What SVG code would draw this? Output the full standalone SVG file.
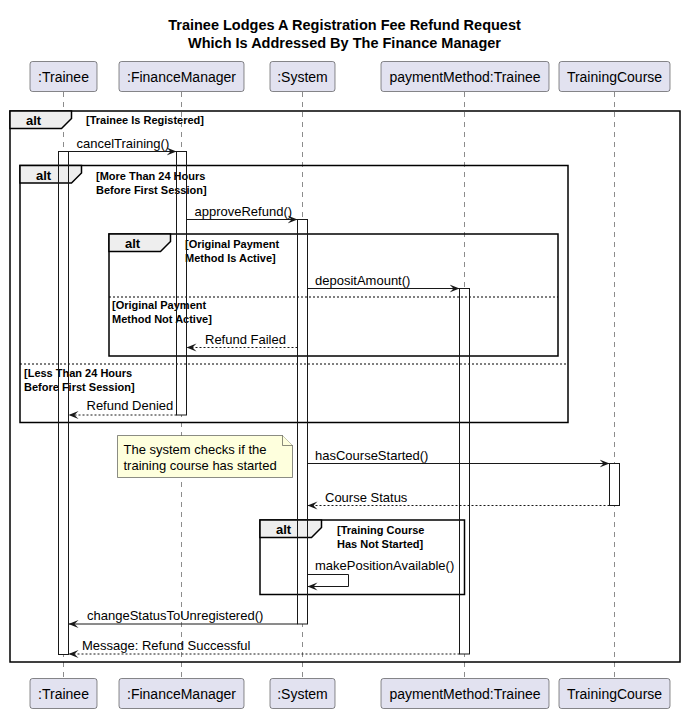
<svg xmlns="http://www.w3.org/2000/svg" width="685" height="715" viewBox="0 0 685 715">
<style>
text{font-family:"Liberation Sans",Arial,sans-serif;fill:#000000}
.title{font-size:14.5px;font-weight:bold;text-anchor:middle}
.pbox{fill:#E2E2F0;stroke:#181818;stroke-width:0.5}
.pname{font-size:14px;text-anchor:middle}
.life{stroke:#181818;stroke-width:0.5;stroke-dasharray:5,5;fill:none}
.actfill{fill:#FFFFFF;stroke:none}
.act{fill:none;stroke:#181818;stroke-width:1}
.frame{fill:none;stroke:#000000;stroke-width:1.5}
.tab{fill:#EEEEEE;stroke:#000000;stroke-width:1.5}
.alt{font-size:13px;font-weight:bold}
.guard{font-size:11px;font-weight:bold}
.sep{stroke:#000000;stroke-width:1;stroke-dasharray:2,2;fill:none}
.msg{stroke:#181818;stroke-width:1;fill:none;marker-end:url(#arrow)}
.ret{stroke-dasharray:2,2}
.lbl{font-size:13px}
.note{fill:#FEFFDD;stroke:#181818;stroke-width:0.5}
</style>
<defs>
<marker id="arrow" markerUnits="userSpaceOnUse" markerWidth="11" markerHeight="9" refX="10" refY="4.5" orient="auto">
<path d="M0,0.5 L10,4.5 L0,8.5 L4,4.5 Z" fill="#181818"/>
</marker>
</defs>
<rect width="685" height="715" fill="#FFFFFF"/>
<g id="title">
<text class="title" x="344.5" y="30">Trainee Lodges A Registration Fee Refund Request</text>
<text class="title" x="344.5" y="48">Which Is Addressed By The Finance Manager</text>
</g>
<g id="p-trainee">
<line class="life" x1="63.5" y1="92" x2="63.5" y2="678"/>
<rect class="pbox" x="30" y="61.5" width="67" height="30" rx="2.5"/>
<text class="pname" x="63.5" y="81.5">:Trainee</text>
<rect class="pbox" x="30" y="678.5" width="67" height="30" rx="2.5"/>
<text class="pname" x="63.5" y="698.5">:Trainee</text>
</g>
<g id="p-financemanager">
<line class="life" x1="181.5" y1="92" x2="181.5" y2="678"/>
<rect class="pbox" x="119" y="61.5" width="125" height="30" rx="2.5"/>
<text class="pname" x="181.5" y="81.5">:FinanceManager</text>
<rect class="pbox" x="119" y="678.5" width="125" height="30" rx="2.5"/>
<text class="pname" x="181.5" y="698.5">:FinanceManager</text>
</g>
<g id="p-system">
<line class="life" x1="302.5" y1="92" x2="302.5" y2="678"/>
<rect class="pbox" x="270" y="61.5" width="65" height="30" rx="2.5"/>
<text class="pname" x="302.5" y="81.5">:System</text>
<rect class="pbox" x="270" y="678.5" width="65" height="30" rx="2.5"/>
<text class="pname" x="302.5" y="698.5">:System</text>
</g>
<g id="p-paymentmethod">
<line class="life" x1="464.5" y1="92" x2="464.5" y2="678"/>
<rect class="pbox" x="381" y="61.5" width="168" height="30" rx="2.5"/>
<text class="pname" x="465" y="81.5">paymentMethod:Trainee</text>
<rect class="pbox" x="381" y="678.5" width="168" height="30" rx="2.5"/>
<text class="pname" x="465" y="698.5">paymentMethod:Trainee</text>
</g>
<g id="p-trainingcourse">
<line class="life" x1="614.5" y1="92" x2="614.5" y2="678"/>
<rect class="pbox" x="559" y="61.5" width="111" height="30" rx="2.5"/>
<text class="pname" x="614.5" y="81.5">TrainingCourse</text>
<rect class="pbox" x="559" y="678.5" width="111" height="30" rx="2.5"/>
<text class="pname" x="614.5" y="698.5">TrainingCourse</text>
</g>
<g id="activation-fills">
<rect class="actfill" x="58.5" y="151.5" width="10" height="503"/>
<rect class="actfill" x="176.5" y="151.5" width="10" height="263.5"/>
<rect class="actfill" x="297.5" y="219.5" width="10" height="404.5"/>
<rect class="actfill" x="459.5" y="288.5" width="10" height="365.5"/>
<rect class="actfill" x="609.5" y="463.5" width="10" height="42"/>
</g>
<g id="fragments">
<g id="alt-outer">
<rect class="frame" x="10" y="111" width="670" height="551"/>
<path class="tab" d="M10,111 L71.5,111 L71.5,118.5 L61.5,128.5 L10,128.5 Z"/>
<text class="alt" x="26" y="125">alt</text>
<text class="guard" x="86" y="124">[Trainee Is Registered]</text>
</g>
<g id="alt-24h">
<rect class="frame" x="20" y="165.5" width="548" height="257"/>
<path class="tab" d="M20,165.5 L81.5,165.5 L81.5,173 L71.5,183 L20,183 Z"/>
<text class="alt" x="36" y="179.5">alt</text>
<text class="guard" x="96" y="179.5">[More Than 24 Hours</text>
<text class="guard" x="96" y="193.5">Before First Session]</text>
<line class="sep" x1="20" y1="364" x2="568" y2="364"/>
<text class="guard" x="24" y="376.5">[Less Than 24 Hours</text>
<text class="guard" x="24" y="390.5">Before First Session]</text>
</g>
<g id="alt-payment">
<rect class="frame" x="109" y="234" width="449" height="122"/>
<path class="tab" d="M109,234 L170.5,234 L170.5,241.5 L160.5,251.5 L109,251.5 Z"/>
<text class="alt" x="125" y="248">alt</text>
<text class="guard" x="185" y="248">[Original Payment</text>
<text class="guard" x="185" y="262">Method Is Active]</text>
<line class="sep" x1="109" y1="297" x2="558" y2="297"/>
<text class="guard" x="112" y="309">[Original Payment</text>
<text class="guard" x="112" y="323">Method Not Active]</text>
</g>
<g id="alt-course">
<rect class="frame" x="260" y="520" width="204.5" height="74.5"/>
<path class="tab" d="M260,520 L321.5,520 L321.5,527.5 L311.5,537.5 L260,537.5 Z"/>
<text class="alt" x="276" y="534">alt</text>
<text class="guard" x="337" y="534">[Training Course</text>
<text class="guard" x="337" y="548">Has Not Started]</text>
</g>
</g>
<g id="activations">
<rect class="act" x="58.5" y="151.5" width="10" height="503"/>
<rect class="act" x="176.5" y="151.5" width="10" height="263.5"/>
<rect class="act" x="297.5" y="219.5" width="10" height="404.5"/>
<rect class="act" x="459.5" y="288.5" width="10" height="365.5"/>
<rect class="act" x="609.5" y="463.5" width="10" height="42"/>
</g>
<g id="note">
<path class="note" d="M117.5,435.5 L117.5,477.5 L292.5,477.5 L292.5,445.5 L282.5,435.5 Z"/>
<path class="note" d="M282.5,435.5 L282.5,445.5 L292.5,445.5"/>
<text class="lbl" x="123.5" y="454">The system checks if the</text>
<text class="lbl" x="123.5" y="469.5">training course has started</text>
</g>
<g id="connectors">
<line class="msg" x1="68.5" y1="151.5" x2="176.5" y2="151.5"/>
<text class="lbl" x="76.5" y="147.5">cancelTraining()</text>
<line class="msg" x1="186.5" y1="219.5" x2="297.5" y2="219.5"/>
<text class="lbl" x="194.5" y="215.5">approveRefund()</text>
<line class="msg" x1="307.5" y1="288.5" x2="459.5" y2="288.5"/>
<text class="lbl" x="315" y="284.5">depositAmount()</text>
<line class="msg ret" x1="297.5" y1="347.5" x2="186.5" y2="347.5"/>
<text class="lbl" x="205" y="343.5">Refund Failed</text>
<line class="msg ret" x1="176.5" y1="415" x2="68.5" y2="415"/>
<text class="lbl" x="86.5" y="410">Refund Denied</text>
<line class="msg" x1="307.5" y1="463.5" x2="609.5" y2="463.5"/>
<text class="lbl" x="315" y="459.5">hasCourseStarted()</text>
<line class="msg ret" x1="609.5" y1="505.5" x2="307.5" y2="505.5"/>
<text class="lbl" x="325" y="501.5">Course Status</text>
<path class="msg" d="M307.5,574.5 L348.5,574.5 L348.5,586.5 L307.5,586.5"/>
<text class="lbl" x="315" y="570">makePositionAvailable()</text>
<line class="msg" x1="297.5" y1="624" x2="68.5" y2="624"/>
<text class="lbl" x="87" y="619.5">changeStatusToUnregistered()</text>
<line class="msg ret" x1="459.5" y1="654" x2="68.5" y2="654"/>
<text class="lbl" x="82" y="649.5">Message: Refund Successful</text>
</g>
</svg>
